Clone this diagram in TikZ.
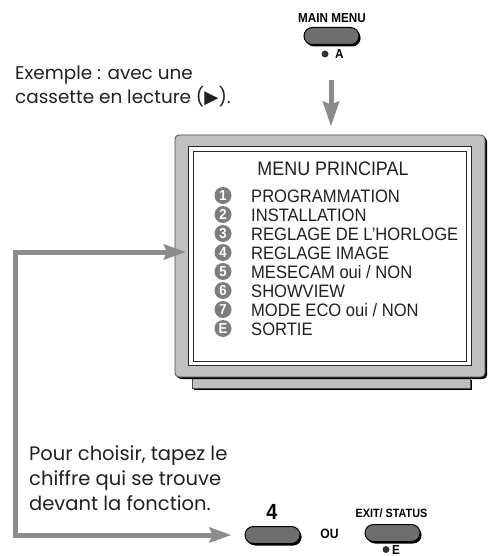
\documentclass[tikz,border=0pt]{standalone}
\usepackage{fontspec}
\setmainfont{Liberation Sans}
\newfontfamily\narrow[FakeStretch=0.92]{Liberation Sans}
\newfontfamily\narrowb[FakeStretch=0.9]{Liberation Sans Bold}
\newfontfamily\futura{Poppins}
\newfontfamily\dejavu{DejaVu Sans}
\usetikzlibrary{arrows.meta,shadows}
\definecolor{arrowgray}{HTML}{8C8C8C}
\definecolor{bodygray}{HTML}{C0C0C0}
\definecolor{btngray}{HTML}{6E6E6E}
\definecolor{numgray}{HTML}{7D7D7D}
\definecolor{textdark}{HTML}{231F20}
\begin{document}
\begin{tikzpicture}[x=1pt,y=-1pt,
  ghead/.tip={Stealth[length=22pt,width=15pt,inset=3pt]},
  gline/.style={draw=arrowgray, line width=5pt},
  btn/.style={draw=black, line width=1pt, fill=btngray, rounded corners=8.5pt,
    minimum width=55pt, minimum height=17pt, inner sep=0pt,
    drop shadow={shadow xshift=1.6pt, shadow yshift=-2pt, fill=black, opacity=1}},
  blabel/.style={font=\narrowb\fontsize{13}{13}\selectfont, text=black, inner sep=0pt},
  para/.style={font=\futura\fontsize{18.4}{20}\selectfont, text=textdark, inner sep=0pt, anchor=base west},
  parb/.style={para, font=\futura\fontsize{19.5}{21}\selectfont},
  item/.style={font=\narrow\fontsize{18}{18}\selectfont, text=textdark, inner sep=0pt, anchor=base west},
  num/.style={circle, fill=numgray, minimum size=17pt, inner sep=0pt, text=white,
    font=\narrowb\fontsize{14.5}{14.5}\selectfont},
  dot/.style={circle, fill=black!80, minimum size=7pt, inner sep=0pt}
]
\useasboundingbox (0,0) rectangle (489,556);

% --- MAIN MENU button
\node[blabel] (mmlabel) at (332,18) {MAIN MENU};
\node[btn] (mm) at (331.5,36) {};
\node[dot] (mmdot) at (325,54) {};
\node[blabel, anchor=west] (mmA) at (335,54.5) {A};

% --- example text
\node[para] (ex1) at (15,80) {Exemple : avec une};
\node[para] (ex2) at (15,104) {cassette en lecture ({\dejavu ▶}).};

% --- TV stand
\node[fill=bodygray, draw=black!70, line width=0.6pt, minimum width=278pt, minimum height=10pt,
  inner sep=0pt, drop shadow={shadow xshift=1.5pt, shadow yshift=-2pt, fill=black, opacity=1}]
  (stand) at (331,383) {};
% --- TV body
\node[fill=bodygray, draw=black!70, line width=0.8pt, rounded corners=4pt,
  minimum width=310pt, minimum height=242pt, inner sep=0pt,
  drop shadow={shadow xshift=2pt, shadow yshift=-2pt, fill=black, opacity=1}]
  (tv) at (330,256) {};
% --- screen
\node[fill=white, draw=black!85, line width=1pt, minimum width=283pt, minimum height=218pt, inner sep=0pt]
  (screen) at (329.5,256) {};
\node[draw=black!85, line width=0.9pt, minimum width=273pt, minimum height=210pt, inner sep=0pt]
  (screenin) at (329.5,256) {};

% --- menu
\node[font=\narrow\fontsize{19.5}{19.5}\selectfont, text=textdark, inner sep=0pt, anchor=base] (title) at (333,175.5) {MENU PRINCIPAL};
\foreach \n/\t [count=\i from 0] in {1/{PROGRAMMATION}, 2/{INSTALLATION}, 3/{REGLAGE DE L’HORLOGE},
    4/{REGLAGE IMAGE}, 5/{MESECAM oui / NON}, 6/{SHOWVIEW}, 7/{MODE ECO oui / NON}, E/{SORTIE}} {
  \node[num] (n\i) at (223,195.5+19*\i) {\n};
  \node[item] (t\i) at (251,202+19*\i) {\t};
}

% --- down arrow
\coordinate (dstart) at (331,80);
\draw[gline, -{Stealth[length=25pt,width=16pt,inset=3pt]}, shorten >=8pt] (dstart) -- (dstart |- tv.north);

% --- bottom text
\node[parb] (p1) at (29,460) {Pour choisir, tapez le};
\node[parb] (p2) at (29,485) {chiffre qui se trouve};
\node[parb] (p3) at (29,510) {devant la fonction.};

% --- bottom buttons
\node[font=\narrowb\fontsize{22}{22}\selectfont, inner sep=0pt] (four) at (272,512) {4};
\node[btn] (btn4) at (272.5,535) {};
\node[font=\narrowb\fontsize{13.5}{13.5}\selectfont, inner sep=0pt] (ou) at (329.5,534) {OU};
\node[blabel, font=\narrowb\fontsize{12}{12}\selectfont] (exitlabel) at (391.5,513) {EXIT/ STATUS};
\node[btn] (btnexit) at (392.5,533) {};
\node[dot] (edot) at (386,549.5) {};
\node[blabel, anchor=west] (eE) at (392,550) {E};

% --- loop arrow
\coordinate (tvin) at (186,252);
\coordinate (ltop) at (15,252);
\coordinate (lbot) at (15,535);
\draw[gline, line join=miter, {ghead}-{ghead}, shorten >=13pt] (tvin) -- (ltop) -- (lbot) -- (btn4.west |- lbot);
\end{tikzpicture}
\end{document}
